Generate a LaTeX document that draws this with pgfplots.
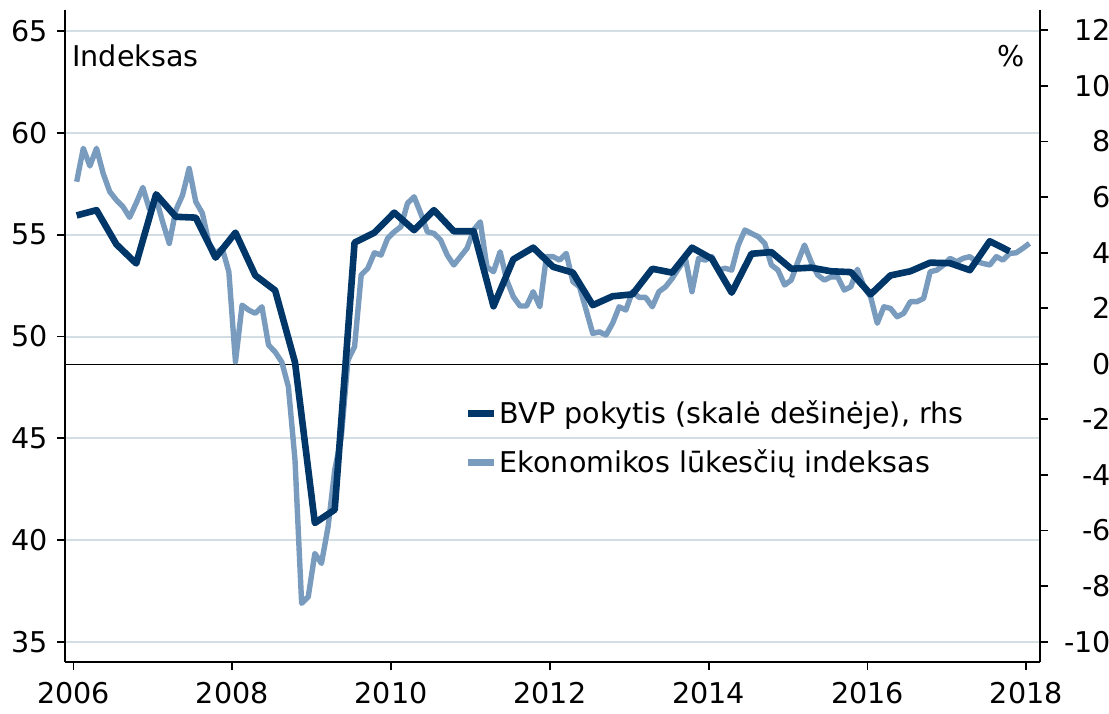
\documentclass[border=0pt]{standalone}
\usepackage{fontspec}
\setmainfont{DejaVu Sans}
\usepackage{pgfplots}
\usepackage{pgfplotstable}
\pgfplotsset{compat=1.18}
\definecolor{darkc}{RGB}{0,54,104}
\definecolor{lightc}{RGB}{120,155,190}
\definecolor{gridc}{RGB}{210,222,228}

\pgfplotstableread{
j v
0 57.60
1 59.24
2 58.37
3 59.24
4 58.01
5 57.11
6 56.70
7 56.37
8 55.85
9 56.55
10 57.32
11 56.24
12 56.78
13 55.62
14 54.57
15 56.21
16 56.94
17 58.25
18 56.62
19 56.05
20 54.57
21 54.08
22 54.33
23 53.18
24 48.76
25 51.54
26 51.30
27 51.14
28 51.46
29 49.58
30 49.24
31 48.75
32 47.53
33 43.93
34 36.90
35 37.22
36 39.35
37 38.86
38 40.66
39 43.44
40 45.08
41 48.84
42 49.50
43 53.02
44 53.35
45 54.11
46 54.00
47 54.82
48 55.14
49 55.39
50 56.54
51 56.86
52 56.05
53 55.14
54 55.06
55 54.74
56 54.00
57 53.51
58 53.92
59 54.33
60 55.23
61 55.63
62 53.42
63 53.18
64 54.16
65 52.77
66 51.95
67 51.50
68 51.50
69 52.20
70 51.46
71 53.92
72 53.92
73 53.75
74 54.08
75 52.69
76 52.44
77 51.30
78 50.15
79 50.23
80 50.07
81 50.65
82 51.46
83 51.30
84 52.20
85 51.92
86 51.92
87 51.46
88 52.20
89 52.44
90 52.85
91 53.35
92 53.84
93 52.20
94 53.84
95 53.75
96 53.92
97 53.26
98 53.35
99 53.26
100 54.49
101 55.23
102 55.06
103 54.90
104 54.57
105 53.51
106 53.26
107 52.53
108 52.77
109 53.67
110 54.49
111 53.67
112 53.02
113 52.77
114 52.93
115 52.93
116 52.28
117 52.44
118 53.30
119 52.44
120 51.95
121 50.65
122 51.46
123 51.38
124 50.97
125 51.14
126 51.71
127 51.71
128 51.87
129 53.18
130 53.26
131 53.51
132 53.84
133 53.67
134 53.84
135 53.92
136 53.67
137 53.59
138 53.51
139 53.92
140 53.75
141 54.08
142 54.11
143 54.33
144 54.57
}\lighttab

\pgfplotstableread{
k v
0 5.34
1 5.53
2 4.30
3 3.61
4 6.10
5 5.29
6 5.26
7 3.82
8 4.72
9 3.18
10 2.64
11 0.05
12 -5.73
13 -5.25
14 4.36
15 4.72
16 5.44
17 4.81
18 5.53
19 4.77
20 4.77
21 2.07
22 3.76
23 4.18
24 3.49
25 3.28
26 2.11
27 2.43
28 2.50
29 3.42
30 3.28
31 4.18
32 3.78
33 2.56
34 3.96
35 4.02
36 3.42
37 3.46
38 3.33
39 3.30
40 2.50
41 3.18
42 3.33
43 3.64
44 3.62
45 3.37
46 4.41
47 4.05
}\darktab

\newcommand{\lblfont}{\fontsize{14.3}{17}\selectfont}

\begin{document}
\begin{tikzpicture}
\useasboundingbox (-32.5pt,-25.5pt) rectangle (522pt,331pt);
\pgfplotsset{
  base/.style={
    width=487.5pt, height=326pt, scale only axis,
    xmin=2005.893, xmax=2018.173,
    tick align=outside, major tick length=4pt,
    tick style={black, line width=0.9pt},
    axis line style={black, line width=1pt},
    ticklabel style={font=\lblfont},
    /pgf/number format/assume math mode=true,
    /pgf/number format/1000 sep={},
  }
}
\begin{axis}[base,
  axis x line*=bottom, axis y line*=left,
  ymin=34.02, ymax=66.03,
  ytick={35,40,...,65},
  xtick={2006,2008,...,2018},
  xticklabel style={yshift=-2.5pt},
  yticklabel style={xshift=-1.2pt},
  ymajorgrids, grid style={gridc, line width=1pt},
]
\draw[black, line width=0.75pt] (axis cs:2005.893,48.636) -- (axis cs:2018.173,48.636);
\addplot[lightc, line width=2.7pt, line join=round] table[x expr=2006.04+\thisrow{j}/12, y=v]{\lighttab};
\node[anchor=base west, font=\lblfont, inner sep=0pt] at (rel axis cs:0.0072,0.914) {Indeksas};
\end{axis}
\begin{axis}[base,
  axis x line=none, axis y line*=right,
  ymin=-10.733, ymax=12.733,
  ytick={-10,-8,...,12},
  yticklabel={\makebox[31.3pt][r]{\pgfmathprintnumber{\tick}}},
  yticklabel style={inner xsep=0pt},
  legend style={draw=none, fill=none, font=\lblfont, at={(0.403,0.412)}, anchor=north west,
    row sep=9pt, nodes={inner sep=1.25pt}},
  legend cell align=left,
  legend image code/.code={\draw[#1, line width=3.5pt] (0pt,0pt) -- (13pt,0pt);},
]
\addplot[darkc, line width=3.3pt, line join=round] table[x expr=2006.04+0.25*\thisrow{k}, y=v]{\darktab};
\addlegendentry{BVP pokytis (skalė dešinėje), rhs}
\addlegendimage{lightc}
\addlegendentry{Ekonomikos lūkesčių indeksas}
\node[anchor=base east, font=\lblfont, inner sep=0pt] at (rel axis cs:0.9846,0.9126) {\%};
\end{axis}
\end{tikzpicture}
\end{document}
